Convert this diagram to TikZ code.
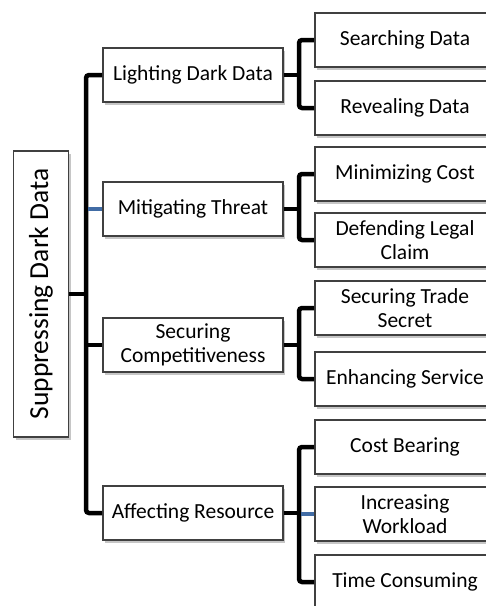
\documentclass[tikz,border=0pt]{standalone}
\usepackage{fontspec}
\setmainfont{Carlito}
\usetikzlibrary{shadows}
\definecolor{linkblue}{RGB}{65,108,165}
\begin{document}
\begin{tikzpicture}[x=1pt,y=-1pt,
  box/.style={draw=black!75,line width=1.6pt,fill=white,
    minimum width=180pt,minimum height=54pt,inner sep=0pt,align=center,
    font=\fontsize{21.5}{24}\selectfont,
    drop shadow={shadow xshift=2pt,shadow yshift=-2.5pt,opacity=0.45}},
  link/.style={line width=4.5pt,rounded corners=3pt},
  bluelink/.style={line width=3.5pt,draw=linkblue}]
  \useasboundingbox (0,0) rectangle (486,606);
  \clip (0,0) rectangle (486,606);

  % trunk and bracket columns
  \coordinate (tx) at (86,0);
  \coordinate (bx) at (299,0);

  % root
  \node[box,minimum width=55pt,minimum height=286pt,font=\fontsize{27.5}{30}\selectfont]
    (root) at (41,294) {\rotatebox{90}{Suppressing Dark Data}};

  % first level
  \node[box] (light)  at (193,75)  {Lighting Dark Data};
  \node[box] (mitig)  at (193,209) {Mitigating Threat};
  \node[box] (secur)  at (193,345) {Securing\\Competitiveness};
  \node[box] (affect) at (193,513) {Affecting Resource};

  % second level
  \node[box] (search)   at (405,40)  {Searching Data};
  \node[box] (reveal)   at (405,108) {Revealing Data};
  \node[box] (mincost)  at (405,174) {Minimizing Cost};
  \node[box] (defend)   at (405,240) {Defending Legal\\Claim};
  \node[box] (trade)    at (405,308) {Securing Trade\\Secret};
  \node[box] (enhance)  at (405,379) {Enhancing Service};
  \node[box] (costbear) at (405,447) {Cost Bearing};
  \node[box] (workload) at (405,514) {Increasing\\Workload};
  \node[box] (timecons) at (405,582) {Time Consuming};

  % trunk
  \draw[link] (light.west) -- (light.west -| tx) -- (affect.west -| tx) -- (affect.west);
  \draw[link] (root.east) -- (root.east -| tx);
  \draw[link] (secur.west) -- (secur.west -| tx);
  \draw[bluelink] (mitig.west) -- ([xshift=2pt]mitig.west -| tx);

  % brackets
  \foreach \cat/\top/\bot in {light/search/reveal,mitig/mincost/defend,
                              secur/trade/enhance,affect/costbear/timecons}{
    \draw[link] (\top.west) -- (\top.west -| bx) -- (\bot.west -| bx) -- (\bot.west);
    \draw[link] (\cat.east) -- (\cat.east -| bx);
  }
  \draw[bluelink] (workload.west) -- ([xshift=2pt]workload.west -| bx);
\end{tikzpicture}
\end{document}
